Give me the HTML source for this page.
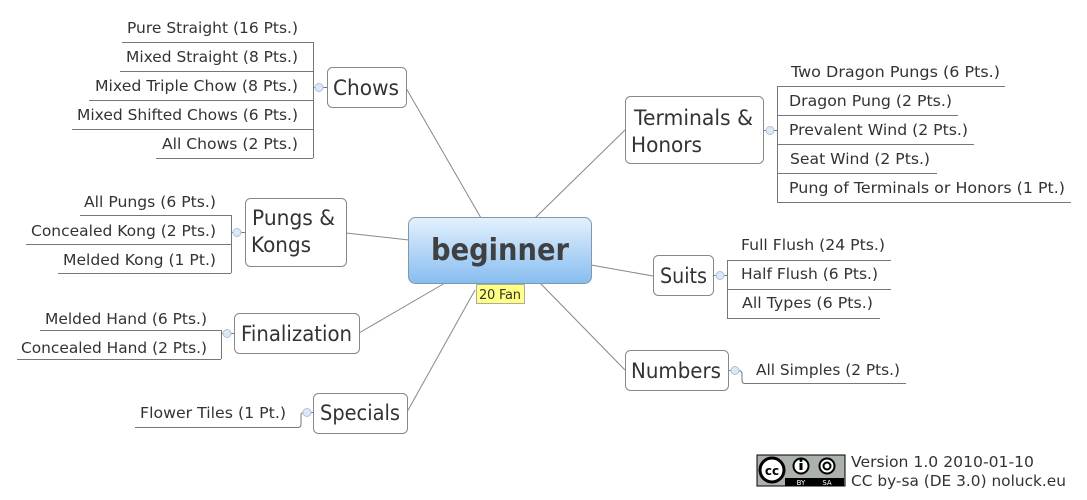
<!DOCTYPE html>
<html><head><meta charset="utf-8"><style>
html,body{margin:0;padding:0;background:#fff;}
svg{display:block;}
text{font-family:"DejaVu Sans","Liberation Sans",sans-serif;fill:#333;}
.l{font-size:15px;}
.n{font-size:21px;}
</style></head><body>
<svg width="1087" height="500" viewBox="0 0 1087 500" xmlns="http://www.w3.org/2000/svg">
<defs>
<linearGradient id="g" x1="0" y1="0" x2="0" y2="1">
<stop offset="0" stop-color="#e4f1fd"/><stop offset="1" stop-color="#86bdf0"/>
</linearGradient>
</defs>
<g stroke="#888" stroke-width="1" fill="none">
<!-- center connectors -->
<line x1="481" y1="218" x2="406" y2="88"/>
<line x1="535" y1="218" x2="625" y2="130"/>
<line x1="409" y1="240" x2="346" y2="233"/>
<line x1="591" y1="265" x2="653" y2="276"/>
<line x1="445" y1="283" x2="359" y2="333"/>
<line x1="540" y1="283" x2="625" y2="370"/>
<line x1="475" y1="290" x2="407" y2="412"/>
</g>
<g stroke="#777" stroke-width="1" fill="none">
<!-- Chows leaves -->
<line x1="122" y1="42.5" x2="313" y2="42.5"/>
<line x1="120" y1="71.5" x2="313" y2="71.5"/>
<line x1="89" y1="100.5" x2="313" y2="100.5"/>
<line x1="72" y1="129.5" x2="313" y2="129.5"/>
<line x1="156" y1="158.5" x2="313" y2="158.5"/>
<line x1="313.5" y1="42" x2="313.5" y2="158"/>
<line x1="314" y1="87.5" x2="327" y2="87.5"/>
<!-- Pungs leaves -->
<line x1="80" y1="215.5" x2="231" y2="215.5"/>
<line x1="26" y1="244.5" x2="231" y2="244.5"/>
<line x1="58" y1="273.5" x2="231" y2="273.5"/>
<line x1="231.5" y1="215" x2="231.5" y2="273"/>
<line x1="232" y1="232.5" x2="245" y2="232.5"/>
<!-- Finalization -->
<line x1="40" y1="330.5" x2="221" y2="330.5"/>
<line x1="17" y1="359.5" x2="221" y2="359.5"/>
<line x1="221.5" y1="330" x2="221.5" y2="359"/>
<line x1="222" y1="333.5" x2="234" y2="333.5"/>
<!-- Specials -->
<path d="M135 427.5 H298 Q301 427.5 301 424 V415 Q301 412.5 304 412.5 H313"/>
<!-- Terminals -->
<line x1="777" y1="86.5" x2="1005" y2="86.5"/>
<line x1="777" y1="115.5" x2="958" y2="115.5"/>
<line x1="777" y1="144.5" x2="974" y2="144.5"/>
<line x1="777" y1="173.5" x2="937" y2="173.5"/>
<line x1="777" y1="202.5" x2="1071" y2="202.5"/>
<line x1="777.5" y1="86" x2="777.5" y2="202"/>
<line x1="763" y1="130.5" x2="777" y2="130.5"/>
<!-- Suits -->
<line x1="727" y1="260.5" x2="891" y2="260.5"/>
<line x1="727" y1="289.5" x2="891" y2="289.5"/>
<line x1="727" y1="318.5" x2="880" y2="318.5"/>
<line x1="727.5" y1="260" x2="727.5" y2="318"/>
<line x1="713" y1="275.5" x2="727" y2="275.5"/>
<!-- Numbers -->
<path d="M728 370.5 H738 Q742 370.5 742 374 V380 Q742 383.5 745 383.5 H906"/>
</g>
<!-- collapse circles -->
<g fill="#dce8f6" stroke="#a9c3e2">
<circle cx="319" cy="87.5" r="4"/>
<circle cx="237" cy="232.5" r="4"/>
<circle cx="227" cy="333.5" r="4"/>
<circle cx="307" cy="412.5" r="4"/>
<circle cx="770" cy="130.5" r="4"/>
<circle cx="720" cy="275.5" r="4"/>
<circle cx="735" cy="370.5" r="4"/>
</g>
<!-- nodes -->
<g fill="#fff" stroke="#888">
<rect x="327.5" y="67.5" width="79" height="40" rx="5"/>
<rect x="245.5" y="198.5" width="101" height="68" rx="5"/>
<rect x="234.5" y="313.5" width="125" height="40" rx="5"/>
<rect x="313.5" y="393.5" width="94" height="40" rx="5"/>
<rect x="625.5" y="96.5" width="138" height="67" rx="5"/>
<rect x="653.5" y="255.5" width="60" height="40" rx="5"/>
<rect x="625.5" y="350.5" width="103" height="40" rx="5"/>
</g>
<rect x="408.5" y="217.5" width="183" height="66" rx="7" fill="url(#g)" stroke="#7f97b2"/>
<rect x="476.5" y="284.5" width="48" height="19" fill="#ffff80" stroke="#aaa"/>
<text x="479" y="299" style="font-size:13px" textLength="42">20 Fan</text>
<text x="500" y="260" text-anchor="middle" style="font-size:30px;font-weight:bold;fill:#404040" textLength="138" lengthAdjust="spacingAndGlyphs">beginner</text>
<g class="n">
<text x="333" y="95" textLength="66" lengthAdjust="spacingAndGlyphs">Chows</text>
<text x="252" y="225" textLength="83" lengthAdjust="spacingAndGlyphs">Pungs &amp;</text>
<text x="251" y="252" textLength="60" lengthAdjust="spacingAndGlyphs">Kongs</text>
<text x="241" y="341" textLength="111" lengthAdjust="spacingAndGlyphs">Finalization</text>
<text x="320" y="420" textLength="80" lengthAdjust="spacingAndGlyphs">Specials</text>
<text x="634" y="125" textLength="119" lengthAdjust="spacingAndGlyphs">Terminals &amp;</text>
<text x="631" y="152" textLength="71" lengthAdjust="spacingAndGlyphs">Honors</text>
<text x="660" y="283" textLength="47" lengthAdjust="spacingAndGlyphs">Suits</text>
<text x="631" y="378" textLength="90" lengthAdjust="spacingAndGlyphs">Numbers</text>
</g>
<g class="l" text-anchor="end">
<text x="298" y="33" textLength="171" lengthAdjust="spacingAndGlyphs">Pure Straight (16 Pts.)</text>
<text x="298" y="62" textLength="172" lengthAdjust="spacingAndGlyphs">Mixed Straight (8 Pts.)</text>
<text x="298" y="91" textLength="203" lengthAdjust="spacingAndGlyphs">Mixed Triple Chow (8 Pts.)</text>
<text x="298" y="120" textLength="221" lengthAdjust="spacingAndGlyphs">Mixed Shifted Chows (6 Pts.)</text>
<text x="298" y="149" textLength="136" lengthAdjust="spacingAndGlyphs">All Chows (2 Pts.)</text>
<text x="216" y="207" textLength="132" lengthAdjust="spacingAndGlyphs">All Pungs (6 Pts.)</text>
<text x="216" y="236" textLength="185" lengthAdjust="spacingAndGlyphs">Concealed Kong (2 Pts.)</text>
<text x="216" y="265" textLength="153" lengthAdjust="spacingAndGlyphs">Melded Kong (1 Pt.)</text>
<text x="207" y="324" textLength="162" lengthAdjust="spacingAndGlyphs">Melded Hand (6 Pts.)</text>
<text x="207" y="353" textLength="186" lengthAdjust="spacingAndGlyphs">Concealed Hand (2 Pts.)</text>
<text x="286" y="418" textLength="146" lengthAdjust="spacingAndGlyphs">Flower Tiles (1 Pt.)</text>
</g>
<g class="l">
<text x="791" y="77" textLength="209" lengthAdjust="spacingAndGlyphs">Two Dragon Pungs (6 Pts.)</text>
<text x="789" y="106" textLength="163" lengthAdjust="spacingAndGlyphs">Dragon Pung (2 Pts.)</text>
<text x="789" y="135" textLength="179" lengthAdjust="spacingAndGlyphs">Prevalent Wind (2 Pts.)</text>
<text x="790" y="164" textLength="140" lengthAdjust="spacingAndGlyphs">Seat Wind (2 Pts.)</text>
<text x="789" y="193" textLength="276" lengthAdjust="spacingAndGlyphs">Pung of Terminals or Honors (1 Pt.)</text>
<text x="741" y="250" textLength="144" lengthAdjust="spacingAndGlyphs">Full Flush (24 Pts.)</text>
<text x="741" y="279" textLength="137" lengthAdjust="spacingAndGlyphs">Half Flush (6 Pts.)</text>
<text x="742" y="308" textLength="131" lengthAdjust="spacingAndGlyphs">All Types (6 Pts.)</text>
<text x="756" y="375" textLength="144" lengthAdjust="spacingAndGlyphs">All Simples (2 Pts.)</text>
</g>
<!-- CC badge -->
<rect x="757" y="455" width="88" height="31" fill="#aab2ab" stroke="#000"/>
<rect x="785" y="478" width="59" height="8" fill="#000"/>
<circle cx="772" cy="470" r="12" fill="#fff" stroke="#000" stroke-width="3"/>
<text x="772" y="475" text-anchor="middle" style="font-size:12px;font-weight:bold;fill:#000">cc</text>
<circle cx="801" cy="466" r="7.5" fill="#fff" stroke="#000" stroke-width="2"/>
<rect x="799.5" y="463" width="3" height="7" fill="#000"/>
<circle cx="801" cy="460.5" r="1.5" fill="#000"/>
<circle cx="827" cy="466" r="7.5" fill="#fff" stroke="#000" stroke-width="2"/>
<circle cx="827" cy="466" r="3.5" fill="none" stroke="#000" stroke-width="2"/>
<text x="801" y="485" text-anchor="middle" style="font-size:7px;fill:#fff">BY</text>
<text x="827" y="485" text-anchor="middle" style="font-size:7px;fill:#fff">SA</text>
<text x="851" y="467" style="font-size:15px" textLength="183" lengthAdjust="spacingAndGlyphs">Version 1.0 2010-01-10</text>
<text x="851" y="486" style="font-size:15px" textLength="215" lengthAdjust="spacingAndGlyphs">CC by-sa (DE 3.0) noluck.eu</text>
</svg>
</body></html>
